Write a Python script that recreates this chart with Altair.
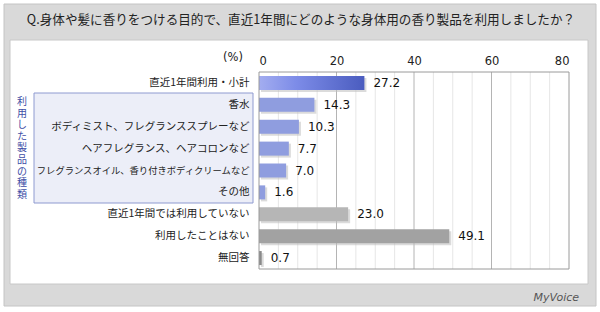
import altair as alt
import pandas as pd

categories = ["直近1年間利用・小計", "香水", "ボディミスト、フレグランススプレーなど",
              "ヘアフレグランス、ヘアコロンなど", "フレグランスオイル、香り付きボディクリームなど",
              "その他", "直近1年間では利用していない", "利用したことはない", "無回答"]
values = [27.2, 14.3, 10.3, 7.7, 7.0, 1.6, 23.0, 49.1, 0.7]
groups = ["total", "sub", "sub", "sub", "sub", "sub", "no1", "no2", "na"]
labels = [f"{v:.1f}" for v in values]
minor_grid = [5, 10, 15, 25, 30, 35, 45, 50, 55, 65, 70, 75]
major_grid = [20, 40, 60]
axis_ticks = [0, 20, 40, 60, 80]
title_text = "Q.身体や髪に香りをつける目的で、直近1年間にどのような身体用の香り製品を利用しましたか？"
group_text = "利用した製品の種類"

df = pd.DataFrame({"cat": categories, "val": values, "grp": groups, "lab": labels})

W, H = 310, 197
JP = "Noto Sans CJK JP"
NUM = "DejaVu Sans"

one = alt.Data(values=[{"a": 1}])

xs = alt.Scale(domain=[0, 80], nice=False)
ys = alt.Scale(domain=categories, paddingInner=0.36, paddingOuter=0.18)
xaxis = alt.Axis(orient="top", title=None, values=axis_ticks, ticks=False,
                 domain=False, grid=False, labelFont=NUM, labelFontSize=11.5,
                 labelColor="#222222", labelPadding=6, zindex=2)

outer = alt.Chart(one).mark_rect(fill="#d9d9d9", stroke="#c4c4c4", strokeWidth=1).encode(
    x=alt.value(-255), x2=alt.value(337), y=alt.value(-68), y2=alt.value(234))
inner = alt.Chart(one).mark_rect(fill="#ffffff", stroke="#c8c8c8", strokeWidth=1).encode(
    x=alt.value(-249), x2=alt.value(329), y=alt.value(-32), y2=alt.value(212))
gbox = alt.Chart(one).mark_rect(fill="#eceef8", stroke="#8e9ad0", strokeWidth=1).encode(
    x=alt.value(-225), x2=alt.value(-6), y=alt.value(21), y2=alt.value(131))
vtext = alt.Chart(one).mark_text(font=JP, fontSize=10, color="#3d4ea6", lineBreak="\n",
                                 lineHeight=11.6, baseline="top", align="center").encode(
    x=alt.value(-237), y=alt.value(25), text=alt.value("\n".join(group_text)))

minor = alt.Chart(pd.DataFrame({"g": minor_grid})).mark_rule(color="#e6e6e6", strokeWidth=1).encode(
    x=alt.X("g:Q", scale=xs, axis=xaxis), y=alt.value(0), y2=alt.value(H))
major = alt.Chart(pd.DataFrame({"g": major_grid})).mark_rule(color="#b4b4b4", strokeWidth=1).encode(
    x=alt.X("g:Q", scale=xs, axis=xaxis), y=alt.value(0), y2=alt.value(H))

base = alt.Chart(df)
yenc = alt.Y("cat:N", scale=ys, sort=categories,
             axis=alt.Axis(title=None, ticks=False, domain=False, labelFont=JP,
                           labelFontSize={"condition": {"test": f"datum.value == '{categories[4]}'",
                                                        "value": 9.3}, "value": 10.5},
                           labelColor="#222222", labelPadding=10, labelLimit=0, zindex=2))
xenc = alt.X("val:Q", scale=xs, axis=xaxis)
shadow = base.mark_bar(color="#bdbdbd", opacity=0.55, xOffset=2, yOffset=2).encode(x=xenc, y=yenc)
bars = base.transform_filter("datum.grp != 'total'").mark_bar().encode(
    x=xenc, y=yenc,
    color=alt.Color("grp:N", legend=None,
                    scale=alt.Scale(domain=["sub", "no1", "no2", "na"],
                                    range=["#8f9ddf", "#b6b6b6", "#a2a2a2", "#8a8a8a"])))
grad = base.transform_filter("datum.grp == 'total'").mark_bar(
    color=alt.Gradient(gradient="linear", x1=0, x2=1, y1=0, y2=0,
                       stops=[alt.GradientStop(offset=0, color="#a3adf0"),
                              alt.GradientStop(offset=0.35, color="#7d8ce8"),
                              alt.GradientStop(offset=1, color="#4a5cbf")])).encode(x=xenc, y=yenc)
vlabels = base.mark_text(align="left", baseline="middle", dx=9, font=NUM, fontSize=12,
                         color="#111111").encode(x=xenc, y=yenc, text="lab:N")
frame = alt.Chart(one).mark_rect(fillOpacity=0, stroke="#9a9a9a", strokeWidth=1).encode(
    x=alt.value(0), x2=alt.value(W), y=alt.value(0), y2=alt.value(H))
title = alt.Chart(one).mark_text(font=JP, fontSize=12.6, color="#222222", align="center",
                                 baseline="middle").encode(
    x=alt.value(42), y=alt.value(-52), text=alt.value(title_text))
pct = alt.Chart(one).mark_text(font=NUM, fontSize=11.5, color="#222222", align="center",
                               baseline="middle").encode(
    x=alt.value(-26), y=alt.value(-14), text=alt.value("(%)"))
logo = alt.Chart(one).mark_text(font="DejaVu Sans", fontSize=11, color="#555555", align="right",
                                baseline="middle", fontStyle="italic").encode(
    x=alt.value(320), y=alt.value(226), text=alt.value("MyVoice"))

chart = alt.layer(outer, inner, gbox, vtext, minor, major, shadow, bars, grad, vlabels, frame,
                  title, pct, logo).properties(
    width=W, height=H, autosize="none",
    padding={"left": 259, "top": 72, "right": 31, "bottom": 43}
).configure_view(stroke=None, fill=None).configure(background="#ffffff")

chart.save("out.html", embed_options={"renderer": "svg", "actions": False})
